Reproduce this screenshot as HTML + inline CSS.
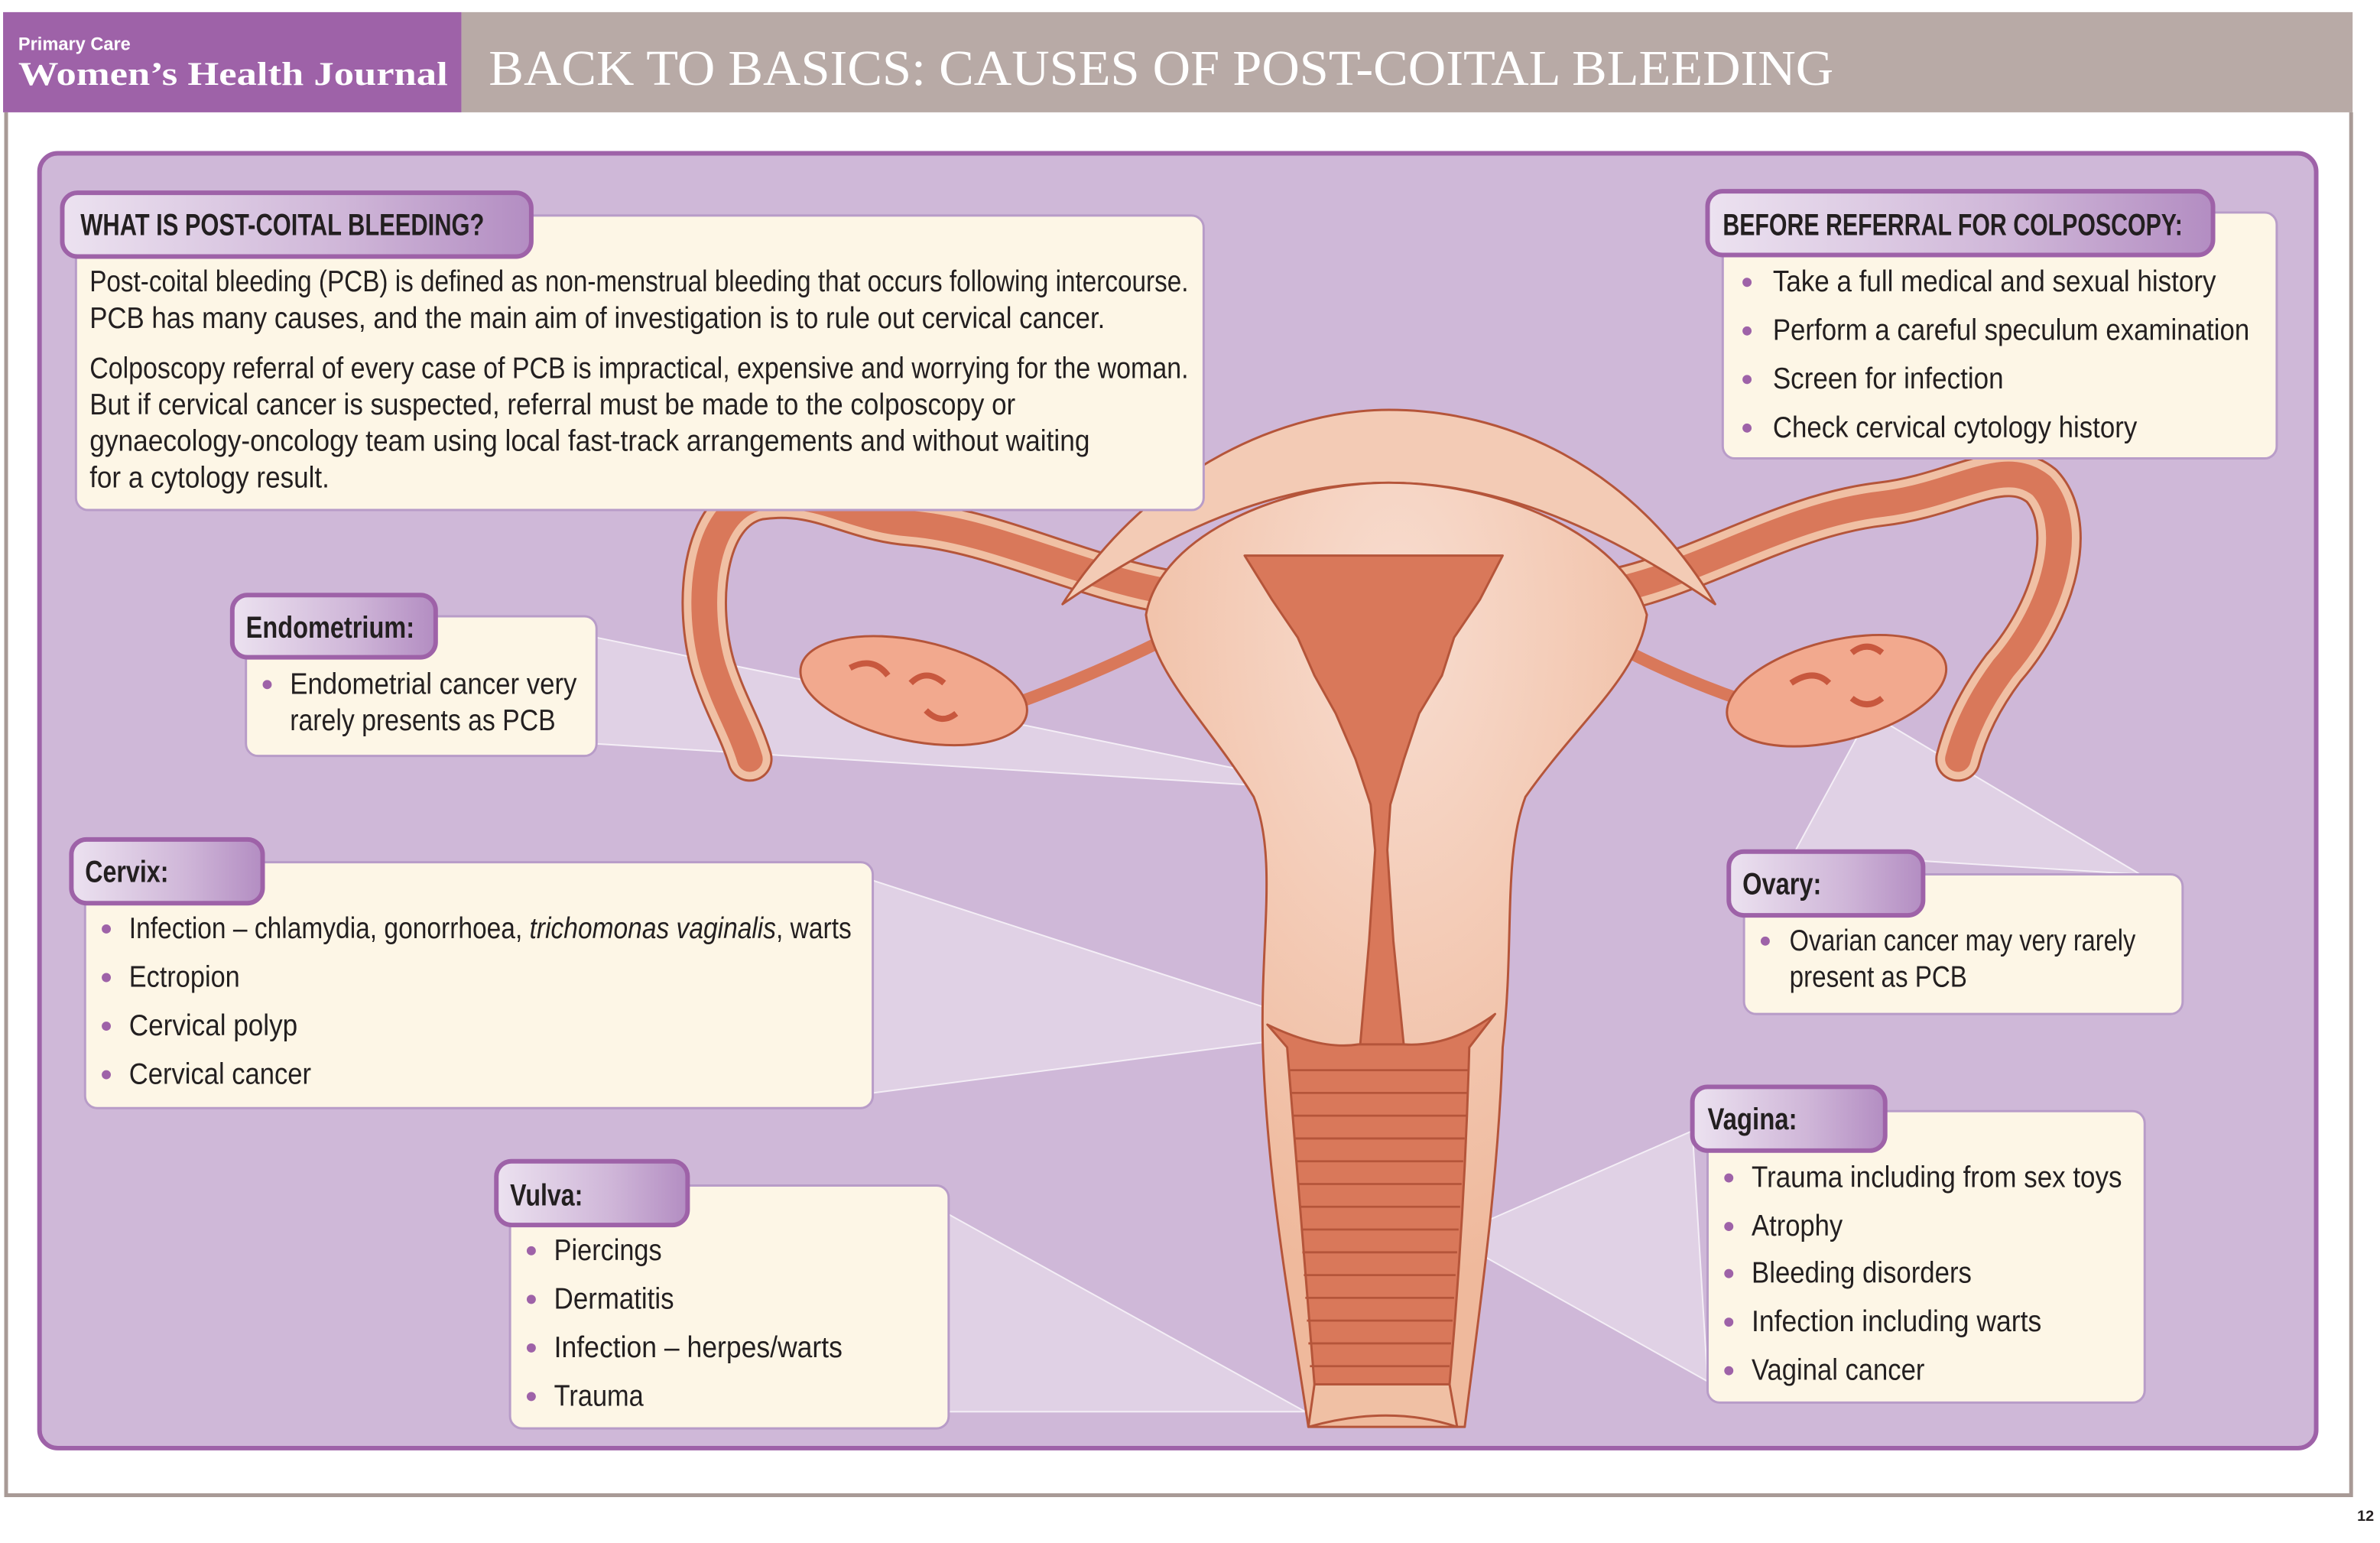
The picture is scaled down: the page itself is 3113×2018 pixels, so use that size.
<!DOCTYPE html>
<html><head><meta charset="utf-8"><style>
html,body{margin:0;padding:0;background:#fff;}
svg{display:block;}
.t{font-family:"Liberation Sans Narrow","Liberation Sans",sans-serif;fill:#231f20;font-size:19.5px;}
.h{font-family:"Liberation Sans Narrow","Liberation Sans",sans-serif;fill:#231f20;font-size:20px;font-weight:bold;}
</style></head><body>
<svg width="3113" height="2018" viewBox="0 0 1568 1016.5" xmlns="http://www.w3.org/2000/svg">
<defs>
<linearGradient id="tab" x1="0" x2="1" y1="0" y2="0">
<stop offset="0" stop-color="#ece2f0"/><stop offset="0.6" stop-color="#cfb6d8"/><stop offset="1" stop-color="#b38dc2"/>
</linearGradient>
<radialGradient id="body" cx="0.5" cy="0.15" r="0.7">
<stop offset="0" stop-color="#f8ddd0"/><stop offset="1" stop-color="#efb99c"/>
</radialGradient>
</defs>
<rect x="2" y="8" width="302" height="66" fill="#9e62a8"/>
<rect x="304" y="8" width="1246" height="66" fill="#b8aaa6"/>
<text x="12" y="33" font-family="Liberation Sans Narrow,Liberation Sans,sans-serif" font-weight="bold" font-size="12" fill="#fff" textLength="74" lengthAdjust="spacingAndGlyphs">Primary Care</text>
<text x="12" y="56" font-family="Liberation Serif,serif" font-weight="bold" font-size="22" fill="#fff" textLength="283" lengthAdjust="spacingAndGlyphs">Women’s Health Journal</text>
<text x="322" y="56" font-family="Liberation Serif,serif" font-size="33" fill="#fff" textLength="886" lengthAdjust="spacingAndGlyphs">BACK TO BASICS: CAUSES OF POST-COITAL BLEEDING</text>
<path d="M4,74 V985 H1549 V74" fill="none" stroke="#a89a96" stroke-width="2.5"/>
<text x="1553" y="1002" font-family="Liberation Sans,sans-serif" font-weight="bold" font-size="10" fill="#231f20">12</text>
<rect x="26" y="101" width="1500" height="853" rx="12" fill="#cfb8d8" stroke="#9e62a8" stroke-width="3"/>

<g fill="#ffffff" fill-opacity="0.35" stroke="#f4eef6" stroke-width="1">
<polygon points="393,420 393,490 886,521"/>
<polygon points="575,580 575,720 884,680"/>
<polygon points="625,800 625,930 860,930"/>
<polygon points="1182,562 1410,576 1232,470"/>
<polygon points="1115,745 1125,910 955,815"/>
</g>

<g stroke="#b5553a" stroke-width="1.5" stroke-linejoin="round">
<g fill="none" stroke-linecap="round">
<path id="lt" d="M785,392 C720,385 660,350 600,345 C560,342 540,322 500,328 C462,336 458,400 470,440 C478,465 488,480 494,500" stroke="#b5553a" stroke-width="30"/>
<path d="M785,392 C720,385 660,350 600,345 C560,342 540,322 500,328 C462,336 458,400 470,440 C478,465 488,480 494,500" stroke="#f0c0a4" stroke-width="27"/>
<path d="M785,392 C720,385 660,350 600,345 C560,342 540,322 500,328 C462,336 458,400 470,440 C478,465 488,480 494,500" stroke="#d9785a" stroke-width="17"/>
<path d="M1045,392 C1110,385 1170,340 1240,332 C1290,326 1320,300 1345,320 C1368,345 1355,400 1320,440 C1305,460 1295,480 1290,500" stroke="#b5553a" stroke-width="30"/>
<path d="M1045,392 C1110,385 1170,340 1240,332 C1290,326 1320,300 1345,320 C1368,345 1355,400 1320,440 C1305,460 1295,480 1290,500" stroke="#f0c0a4" stroke-width="27"/>
<path d="M1045,392 C1110,385 1170,340 1240,332 C1290,326 1320,300 1345,320 C1368,345 1355,400 1320,440 C1305,460 1295,480 1290,500" stroke="#d9785a" stroke-width="17"/>
<path d="M770,420 Q720,445 665,465" stroke="#d9785a" stroke-width="8"/>
<path d="M1055,420 Q1100,445 1150,462" stroke="#d9785a" stroke-width="8"/>
</g>
<ellipse cx="602" cy="455" rx="76" ry="33" transform="rotate(12 602 455)" fill="#f2a98e"/>
<ellipse cx="1210" cy="455" rx="74" ry="33" transform="rotate(-14 1210 455)" fill="#f2a98e"/>
<path d="M560,440 q15,-8 25,5 M600,450 q10,-10 22,0 M630,470 q-10,8 -20,-2 M1180,450 q15,-10 25,0 M1220,430 q10,-8 20,0 M1240,460 q-10,8 -20,0" fill="none" stroke="#c8583e" stroke-width="4"/>
<!-- broad ligament dome -->
<path d="M700,398 C760,305 850,270 915,270 C990,270 1075,305 1130,398 C1060,350 990,318 915,318 C840,318 770,350 700,398 Z" fill="#f3cbb5"/>
<!-- uterus body -->
<path d="M862,940 C850,860 835,780 832,690 C830,620 842,565 826,525 C795,475 760,445 755,405 C765,350 850,318 915,318 C985,318 1068,350 1085,405 C1080,445 1040,475 1005,525 C990,565 998,620 990,690 C987,780 975,860 965,940 Z" fill="url(#body)"/>
<path d="M820,366 L990,366 L975,395 L958,420 L950,445 L935,470 L925,500 L916,530 L914,560 L918,620 L925,690 L896,690 L902,620 L906,560 L903,530 L893,500 L880,470 L866,445 L855,420 L838,395 Z" fill="#d9785a"/>
<path d="M835,675 Q870,692 895,688 L925,688 Q955,690 985,668 L968,690 Q965,800 955,912 L866,912 Q857,800 848,690 Z" fill="#d9785a"/>
<g fill="none" stroke="#b5553a" stroke-width="1.4">
<path d="M850,705 H968 M851,720 H967 M852,735 H966 M853,750 H965 M854,765 H964 M855,780 H963 M856,795 H962 M857,810 H961 M858,825 H960 M859,840 H959 M860,855 H958 M861,870 H957 M862,885 H956 M863,900 H955"/>
</g>
<path d="M866,912 L955,912 L960,940 Q915,925 862,940 Z" fill="#f0c0a4"/>
</g>

<g stroke="#b89cc8" stroke-width="1.5" fill="#fdf6e6">
<rect x="50" y="142" width="743" height="194" rx="8"/>
<rect x="1135" y="140" width="365" height="162" rx="8"/>
<rect x="162" y="406" width="231" height="92" rx="8"/>
<rect x="56" y="568" width="519" height="162" rx="8"/>
<rect x="336" y="781" width="289" height="160" rx="8"/>
<rect x="1149" y="576" width="289" height="92" rx="8"/>
<rect x="1125" y="732" width="288" height="192" rx="8"/>
</g>
<g stroke="#9e62a8" stroke-width="3" fill="url(#tab)">
<rect x="41" y="127" width="309" height="42" rx="10"/>
<rect x="1125" y="126" width="333" height="42" rx="10"/>
<rect x="153" y="392" width="134" height="41" rx="10"/>
<rect x="47" y="553" width="126" height="42" rx="10"/>
<rect x="327" y="765" width="126" height="42" rx="10"/>
<rect x="1139" y="561" width="128" height="42" rx="10"/>
<rect x="1115" y="716" width="127" height="42" rx="10"/>
</g>

<text class="h" x="53" y="155" textLength="266" lengthAdjust="spacingAndGlyphs">WHAT IS POST-COITAL BLEEDING?</text>
<text class="h" x="1135" y="155" textLength="303" lengthAdjust="spacingAndGlyphs">BEFORE REFERRAL FOR COLPOSCOPY:</text>
<text class="h" x="162" y="420" textLength="111" lengthAdjust="spacingAndGlyphs">Endometrium:</text>
<text class="h" x="56" y="581" textLength="55" lengthAdjust="spacingAndGlyphs">Cervix:</text>
<text class="h" x="336" y="794" textLength="48" lengthAdjust="spacingAndGlyphs">Vulva:</text>
<text class="h" x="1148" y="589" textLength="52" lengthAdjust="spacingAndGlyphs">Ovary:</text>
<text class="h" x="1125" y="744" textLength="59" lengthAdjust="spacingAndGlyphs">Vagina:</text>

<text class="t" x="59" y="192" textLength="724" lengthAdjust="spacingAndGlyphs">Post-coital bleeding (PCB) is defined as non-menstrual bleeding that occurs following intercourse.</text>
<text class="t" x="59" y="216" textLength="669" lengthAdjust="spacingAndGlyphs">PCB has many causes, and the main aim of investigation is to rule out cervical cancer.</text>
<text class="t" x="59" y="249" textLength="724" lengthAdjust="spacingAndGlyphs">Colposcopy referral of every case of PCB is impractical, expensive and worrying for the woman.</text>
<text class="t" x="59" y="273" textLength="610" lengthAdjust="spacingAndGlyphs">But if cervical cancer is suspected, referral must be made to the colposcopy or</text>
<text class="t" x="59" y="297" textLength="659" lengthAdjust="spacingAndGlyphs">gynaecology-oncology team using local fast-track arrangements and without waiting</text>
<text class="t" x="59" y="321" textLength="158" lengthAdjust="spacingAndGlyphs">for a cytology result.</text>

<g fill="#9e62a8">
<circle cx="1151" cy="186" r="3"/><circle cx="1151" cy="218" r="3"/><circle cx="1151" cy="250" r="3"/><circle cx="1151" cy="282" r="3"/>
<circle cx="176" cy="451" r="3"/>
<circle cx="70" cy="612" r="3"/><circle cx="70" cy="644" r="3"/><circle cx="70" cy="676" r="3"/><circle cx="70" cy="708" r="3"/>
<circle cx="350" cy="824" r="3"/><circle cx="350" cy="856" r="3"/><circle cx="350" cy="888" r="3"/><circle cx="350" cy="920" r="3"/>
<circle cx="1163" cy="620" r="3"/>
<circle cx="1139" cy="776" r="3"/><circle cx="1139" cy="808" r="3"/><circle cx="1139" cy="839" r="3"/><circle cx="1139" cy="871" r="3"/><circle cx="1139" cy="903" r="3"/>
</g>
<text class="t" x="1168" y="192" textLength="292" lengthAdjust="spacingAndGlyphs">Take a full medical and sexual history</text>
<text class="t" x="1168" y="224" textLength="314" lengthAdjust="spacingAndGlyphs">Perform a careful speculum examination</text>
<text class="t" x="1168" y="256" textLength="152" lengthAdjust="spacingAndGlyphs">Screen for infection</text>
<text class="t" x="1168" y="288" textLength="240" lengthAdjust="spacingAndGlyphs">Check cervical cytology history</text>

<text class="t" x="191" y="457" textLength="189" lengthAdjust="spacingAndGlyphs">Endometrial cancer very</text>
<text class="t" x="191" y="481" textLength="175" lengthAdjust="spacingAndGlyphs">rarely presents as PCB</text>

<text class="t" x="85" y="618" textLength="476" lengthAdjust="spacingAndGlyphs">Infection – chlamydia, gonorrhoea, <tspan font-style="italic">trichomonas vaginalis</tspan>, warts</text>
<text class="t" x="85" y="650" textLength="73" lengthAdjust="spacingAndGlyphs">Ectropion</text>
<text class="t" x="85" y="682" textLength="111" lengthAdjust="spacingAndGlyphs">Cervical polyp</text>
<text class="t" x="85" y="714" textLength="120" lengthAdjust="spacingAndGlyphs">Cervical cancer</text>

<text class="t" x="365" y="830" textLength="71" lengthAdjust="spacingAndGlyphs">Piercings</text>
<text class="t" x="365" y="862" textLength="79" lengthAdjust="spacingAndGlyphs">Dermatitis</text>
<text class="t" x="365" y="894" textLength="190" lengthAdjust="spacingAndGlyphs">Infection – herpes/warts</text>
<text class="t" x="365" y="926" textLength="59" lengthAdjust="spacingAndGlyphs">Trauma</text>

<text class="t" x="1179" y="626" textLength="228" lengthAdjust="spacingAndGlyphs">Ovarian cancer may very rarely</text>
<text class="t" x="1179" y="650" textLength="117" lengthAdjust="spacingAndGlyphs">present as PCB</text>

<text class="t" x="1154" y="782" textLength="244" lengthAdjust="spacingAndGlyphs">Trauma including from sex toys</text>
<text class="t" x="1154" y="814" textLength="60" lengthAdjust="spacingAndGlyphs">Atrophy</text>
<text class="t" x="1154" y="845" textLength="145" lengthAdjust="spacingAndGlyphs">Bleeding disorders</text>
<text class="t" x="1154" y="877" textLength="191" lengthAdjust="spacingAndGlyphs">Infection including warts</text>
<text class="t" x="1154" y="909" textLength="114" lengthAdjust="spacingAndGlyphs">Vaginal cancer</text>
</svg>
</body></html>
